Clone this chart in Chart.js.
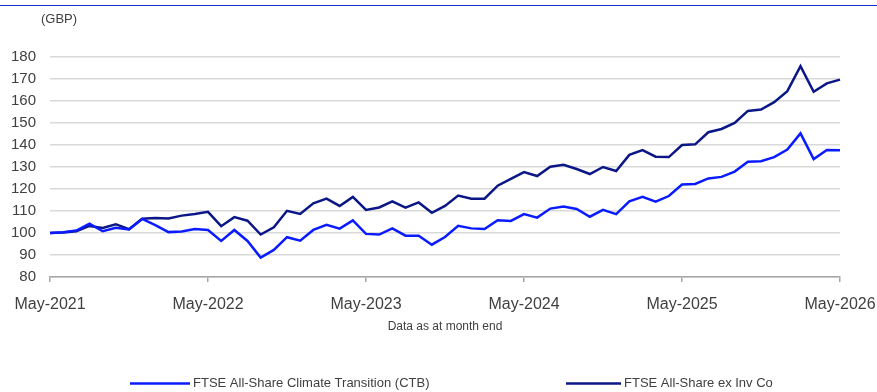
<!DOCTYPE html>
<html>
<head>
<meta charset="utf-8">
<script src="https://cdn.jsdelivr.net/npm/chart.js@4.4.1/dist/chart.umd.min.js"></script>
<style>
  html, body { margin: 0; padding: 0; background: #fff; }
  #wrap { position: relative; width: 877px; height: 392px; }
</style>
</head>
<body>
<div id="wrap"><canvas id="perf"></canvas></div>
<script>
// monthly index levels, rebased to 100 at May-2021
const monthNames = ['Jan', 'Feb', 'Mar', 'Apr', 'May', 'Jun', 'Jul', 'Aug', 'Sep', 'Oct', 'Nov', 'Dec'];
const months = [];
for (let i = 0; i <= 60; i++) {
  const m = (4 + i) % 12;
  const y = 2021 + Math.floor((4 + i) / 12);
  months.push(monthNames[m] + '-' + y);
}

const ctbValues = [
  100, 100.3, 101.1, 104.2, 100.8, 102.4, 101.6, 106.4, 103.6, 100.4,
  100.7, 101.8, 101.4, 96.4, 101.4, 96.4, 88.8, 92.3, 98.1, 96.5,
  101.4, 103.7, 102, 105.7, 99.6, 99.3, 102.1, 98.8, 98.8, 94.7,
  98.2, 103.3, 102.1, 101.8, 105.8, 105.5, 108.6, 107, 111.1, 112,
  110.9, 107.4, 110.5, 108.6, 114.4, 116.4, 114.2, 116.8, 122, 122.3,
  124.8, 125.5, 127.9, 132.4, 132.6, 134.5, 137.9, 145.3, 133.6, 137.7,
  137.6
];

const allShareValues = [
  100, 100.2, 100.8, 103.2, 102.3, 104, 101.7, 106.5, 106.8, 106.6,
  107.9, 108.6, 109.6, 103.1, 107.2, 105.6, 99.3, 102.6, 110.1, 108.7,
  113.5, 115.6, 112.3, 116.4, 110.5, 111.6, 114.4, 111.5, 113.9, 109.2,
  112.3, 117, 115.6, 115.6, 121.5, 124.6, 127.7, 125.9, 130.1, 131,
  129.1, 126.8, 130, 128.2, 135.5, 137.7, 134.7, 134.5, 140, 140.3,
  145.8, 147.3, 150, 155.5, 156.1, 159.5, 164.5, 175.8, 164.2, 168,
  169.7
];

const seriesNames = ['FTSE All-Share Climate Transition (CTB)', 'FTSE All-Share ex Inv Co'];
const seriesColors = ['#0a1cff', '#0b1786'];

const textColor = '#404040';
const fontFamily = 'Arial, "Liberation Sans", sans-serif';

// header rule, unit label, footnote and the hand-placed legend
const decorations = {
  id: 'decorations',
  afterDraw(chart) {
    const c = chart.ctx;
    c.save();
    c.strokeStyle = '#1a2bd0';
    c.lineWidth = 1.2;
    c.beginPath();
    c.moveTo(0, 5.5);
    c.lineTo(877, 5.5);
    c.stroke();

    c.fillStyle = textColor;
    c.textBaseline = 'middle';
    c.font = '13px ' + fontFamily;
    c.textAlign = 'left';
    c.fillText('(GBP)', 41, 19);

    c.font = '12px ' + fontFamily;
    c.textAlign = 'center';
    c.fillText('Data as at month end', 445, 327);

    const legendItems = [
      { x0: 130, x1: 190, tx: 193 },
      { x0: 566, x1: 621, tx: 624 }
    ];
    c.font = '13px ' + fontFamily;
    c.textAlign = 'left';
    legendItems.forEach((it, i) => {
      c.strokeStyle = seriesColors[i];
      c.lineWidth = 2.5;
      c.beginPath();
      c.moveTo(it.x0, 383.5);
      c.lineTo(it.x1, 383.5);
      c.stroke();
      c.fillStyle = textColor;
      c.fillText(seriesNames[i], it.tx, 383);
    });
    c.restore();
  }
};

new Chart(document.getElementById('perf'), {
  type: 'line',
  data: {
    labels: months,
    datasets: [
      {
        label: seriesNames[0],
        data: ctbValues,
        borderColor: seriesColors[0],
        borderWidth: 2.5,
        pointRadius: 0,
        tension: 0,
        fill: false
      },
      {
        label: seriesNames[1],
        data: allShareValues,
        borderColor: seriesColors[1],
        borderWidth: 2.5,
        pointRadius: 0,
        tension: 0,
        fill: false
      }
    ]
  },
  options: {
    responsive: true,
    maintainAspectRatio: false,
    animation: false,
    layout: {
      padding: { top: 57, right: 37, bottom: 79, left: 0 }
    },
    scales: {
      x: {
        offset: false,
        grid: {
          drawOnChartArea: false,
          drawTicks: true,
          tickLength: 5,
          color: '#a6a6a6',
          lineWidth: 1.5
        },
        border: { display: true, color: '#a6a6a6', width: 1.5 },
        ticks: {
          autoSkip: false,
          maxRotation: 0,
          padding: 13,
          color: textColor,
          font: { family: fontFamily, size: 16 },
          callback: (v, i) => (i % 12 === 0 ? months[i] : null)
        },
        afterFit: (scale) => {
          scale.height = 36;
          // let the last year label run into the right margin
          scale.paddingLeft = 0;
          scale.paddingRight = 0;
        }
      },
      y: {
        min: 80,
        max: 180,
        grid: { color: '#d9d9d9', lineWidth: 1.5, drawTicks: false },
        border: { display: false },
        ticks: {
          stepSize: 10,
          padding: 14,
          color: textColor,
          font: { family: fontFamily, size: 15 }
        },
        afterFit: (scale) => {
          scale.width = 50;
          scale.paddingTop = 0;
          scale.paddingBottom = 0;
        }
      }
    },
    plugins: {
      legend: { display: false },
      tooltip: { enabled: false }
    }
  },
  plugins: [decorations]
});
</script>
</body>
</html>
